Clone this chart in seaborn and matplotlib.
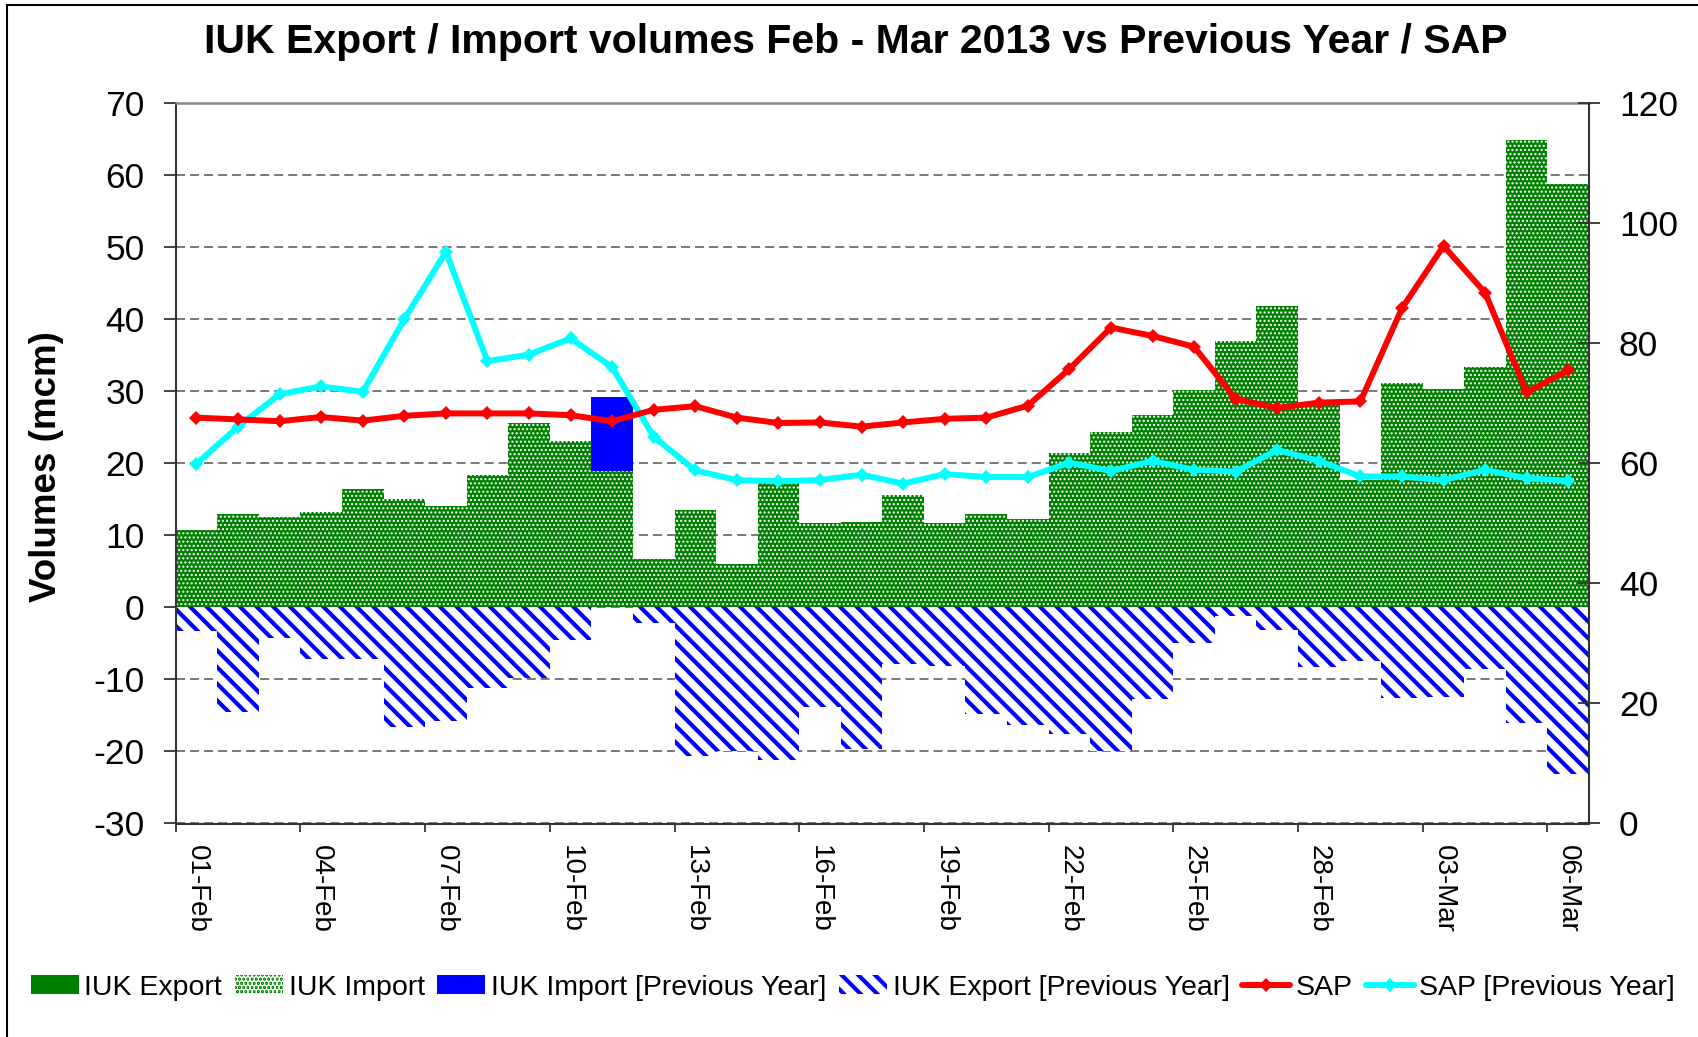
import numpy as np
import pandas as pd
import matplotlib
matplotlib.use("Agg")
import matplotlib.pyplot as plt
from matplotlib.patches import Rectangle
import seaborn as sns

# ---------------- data ----------------
dates = ["01-Feb", "02-Feb", "03-Feb", "04-Feb", "05-Feb", "06-Feb", "07-Feb", "08-Feb",
         "09-Feb", "10-Feb", "11-Feb", "12-Feb", "13-Feb", "14-Feb", "15-Feb", "16-Feb",
         "17-Feb", "18-Feb", "19-Feb", "20-Feb", "21-Feb", "22-Feb", "23-Feb", "24-Feb",
         "25-Feb", "26-Feb", "27-Feb", "28-Feb", "01-Mar", "02-Mar", "03-Mar", "04-Mar",
         "05-Mar", "06-Mar"]

iuk_export = [0] * 34
iuk_import = [10.7, 12.9, 12.6, 13.2, 16.4, 15.1, 14.0, 18.3, 25.6, 23.1, 18.9, 6.7,
              13.5, 6.0, 17.2, 11.7, 11.9, 15.6, 11.7, 12.9, 12.2, 21.4, 24.3, 26.7,
              30.2, 36.9, 41.8, 28.4, 17.7, 31.1, 30.3, 33.4, 64.9, 58.8]
iuk_import_prev = [0, 0, 0, 0, 0, 0, 0, 0, 0, 0, 29.2, 0,
                   0, 0, 0, 0, 0, 0, 0, 0, 0, 0, 0, 0,
                   0, 0, 0, 0, 0, 0, 0, 0, 0, 0]
iuk_export_prev = [-3.3, -14.5, -4.3, -7.1, -7.1, -16.6, -15.8, -11.2, -9.8, -4.6, 0, -2.2,
                   -20.6, -19.9, -21.2, -13.9, -19.7, -7.9, -8.1, -14.8, -16.3, -17.6, -20.0, -12.7,
                   -4.9, -1.2, -3.2, -8.3, -7.4, -12.6, -12.5, -8.6, -16.1, -23.1]
sap = [67.6, 67.3, 67.0, 67.7, 67.1, 67.9, 68.3, 68.3, 68.3, 68.0, 67.0, 68.9,
       69.5, 67.6, 66.7, 66.8, 66.1, 66.8, 67.4, 67.6, 69.6, 75.7, 82.6, 81.2,
       79.4, 70.7, 69.2, 70.1, 70.3, 85.8, 96.2, 88.4, 71.8, 75.5]
sap_prev = [59.9, 66.1, 71.5, 72.8, 71.9, 84.0, 95.2, 77.0, 78.1, 80.8, 76.0, 64.4,
            58.8, 57.2, 57.0, 57.2, 58.1, 56.6, 58.2, 57.7, 57.7, 60.1, 58.7, 60.4,
            58.9, 58.6, 62.2, 60.4, 57.8, 57.8, 57.2, 58.9, 57.5, 57.1]

left_ticks = list(range(-30, 71, 10))
right_ticks = list(range(0, 121, 20))

title = "IUK Export / Import volumes Feb - Mar 2013 vs Previous Year / SAP"
ylabel = "Volumes (mcm)"
labels = ["IUK Export", "IUK Import", "IUK Import [Previous Year]",
          "IUK Export [Previous Year]", "SAP", "SAP [Previous Year]"]

GREEN = "#008000"
BLUE = "#0000FF"
RED = "#FF0000"
CYAN = "#00FFFF"

# ---------------- style ----------------
sns.set_theme(style="white")
plt.rcParams["font.family"] = ["Liberation Sans", "DejaVu Sans"]
plt.rcParams["lines.scale_dashes"] = False
plt.rcParams["text.color"] = "black"
plt.rcParams["axes.labelcolor"] = "black"
plt.rcParams["xtick.color"] = "black"
plt.rcParams["ytick.color"] = "black"
plt.rcParams["xtick.labelcolor"] = "black"
plt.rcParams["ytick.labelcolor"] = "black"

W, H = 1699, 1037
fig = plt.figure(figsize=(W / 100, H / 100), dpi=100)
fig.patch.set_facecolor("white")
ax_l, ax_r, ax_t, ax_b = 175.7, 1589.0, 103.0, 823.5
ax = fig.add_axes([ax_l / W, 1 - ax_b / H, (ax_r - ax_l) / W, (ax_b - ax_t) / H])

df = pd.DataFrame({"day": dates, "export": iuk_export, "import": iuk_import,
                   "import_prev": iuk_import_prev, "export_prev": iuk_export_prev,
                   "sap": sap, "sap_prev": sap_prev})
xpos = np.arange(len(dates))


def bars(col, face, edge, hatch, hlw):
    plt.rcParams["hatch.linewidth"] = hlw
    sns.barplot(data=df, x="day", y=col, order=dates, ax=ax, color=face,
                saturation=1, width=1.0, linewidth=0, errorbar=None)
    cont = ax.containers[-1]
    for p in cont.patches:
        p.set_facecolor(face)
        p.set_edgecolor(edge)
        p.set_linewidth(0)
        if hatch:
            p.set_hatch(hatch)
            if hasattr(p, "set_hatchcolor"):
                p.set_hatchcolor(edge)
            if hasattr(p, "set_hatch_linewidth"):
                p.set_hatch_linewidth(hlw)
    return cont


c_import_prev = bars("import_prev", BLUE, BLUE, None, 1.0)
c_export = bars("export", GREEN, GREEN, None, 1.0)
c_import = bars("import", GREEN, "white", "....", 1.0)
c_export_prev = bars("export_prev", "white", BLUE, "\\\\", 3.0)

ax.set_xlim(-0.5, len(dates) - 0.5)
ax.set_ylim(-30, 70)
ax.set_axisbelow(True)
ax.yaxis.grid(True, color="#555555", linewidth=1.1, linestyle=(0, (6.5, 3.6)))
ax.xaxis.grid(False)
ax.set_xlabel("")
ax.set_ylabel("")

ax.set_yticks(left_ticks)
ax.set_yticklabels([str(t) for t in left_ticks])
ax.tick_params(axis="y", direction="out", length=8.9, width=1.3, pad=13.5,
               labelsize=25.5, color="#333333", labelcolor="black", left=True)

ax.set_xticks(np.arange(-0.5, len(dates) - 1, 3))
ax.set_xticklabels([])
ax.set_xticks(xpos[::3], minor=True)
ax.set_xticklabels(dates[::3], minor=True)
ax.tick_params(axis="x", which="major", direction="out", length=6, width=1.3,
               color="#333333", bottom=True, labelbottom=False)
ax.tick_params(axis="x", which="minor", length=0, pad=15.5, labelsize=20,
               labelcolor="black", labelrotation=-90, bottom=True, labelbottom=True)

for s in ["left", "bottom"]:
    ax.spines[s].set_color("#333333")
    ax.spines[s].set_linewidth(1.5)
ax.spines["top"].set_color("#888888")
ax.spines["top"].set_linewidth(1.8)
ax.spines["right"].set_visible(False)

# ---------------- lines on secondary axis ----------------
ax2 = ax.twinx()
sns.lineplot(data=df, x=xpos, y="sap_prev", ax=ax2, color=CYAN, linewidth=4.3,
             marker="D", markersize=7.5, markeredgewidth=0)
sns.lineplot(data=df, x=xpos, y="sap", ax=ax2, color=RED, linewidth=4.3,
             marker="D", markersize=7.5, markeredgewidth=0)
ax2.set_ylim(0, 120)
ax2.set_xlim(-0.5, len(dates) - 0.5)
ax2.set_ylabel("")
ax2.set_yticks(right_ticks)
ax2.set_yticklabels([str(t) for t in right_ticks])
ax2.tick_params(axis="y", direction="inout", length=16.3, width=1.3, pad=13.4,
                labelsize=25.5, color="#333333", labelcolor="black", right=True)
for s in ["top", "left", "bottom"]:
    ax2.spines[s].set_visible(False)
ax2.spines["right"].set_color("#333333")
ax2.spines["right"].set_linewidth(1.5)
ax2.grid(False)

line_prev, line_sap = ax2.lines[0], ax2.lines[1]

# ---------------- texts ----------------
fig.text(856 / W, 1 - 53.3 / H, title, ha="center", va="baseline",
         fontsize=29.5, fontweight="bold", color="black")
fig.text(47 / W, 1 - 467 / H, ylabel, rotation=90, ha="center", va="center",
         fontsize=26.5, fontweight="bold", color="black")

fig.legend(handles=[c_export, c_import, c_import_prev, c_export_prev, line_sap, line_prev],
           labels=labels, loc="center", bbox_to_anchor=(853 / W, 1 - 987.7 / H),
           ncol=6, frameon=False, fontsize=20.5, handlelength=1.68, handleheight=0.65,
           handletextpad=0.2, columnspacing=0.45, borderaxespad=0, borderpad=0,
           labelcolor="black")

# chart-area border
fig.add_artist(Rectangle((7.3 / W, -0.05), 1.2, (1 - 4.7 / H) + 0.05, fill=False,
                         edgecolor="black", linewidth=1.5, transform=fig.transFigure,
                         clip_on=False))

fig.savefig("out.png", dpi=100)
